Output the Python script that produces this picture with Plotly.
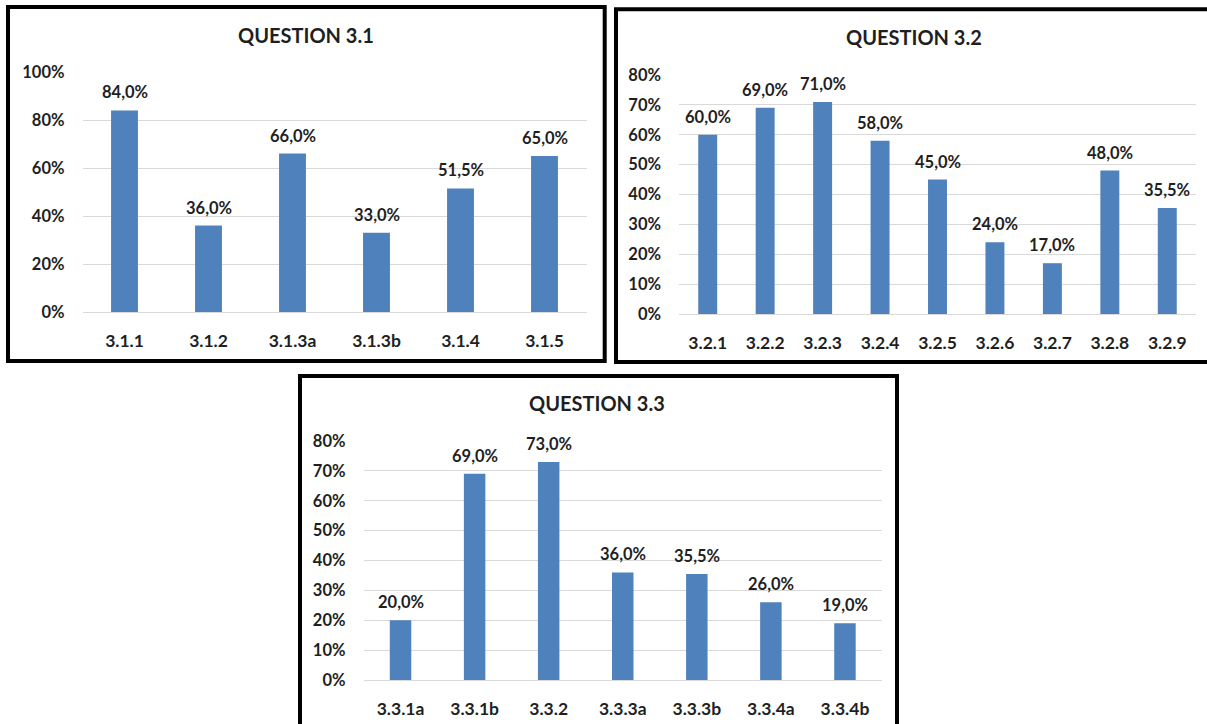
import plotly.graph_objects as go

# Question 3.1
cats_31 = ["3.1.1", "3.1.2", "3.1.3a", "3.1.3b", "3.1.4", "3.1.5"]
vals_31 = [0.84, 0.36, 0.66, 0.33, 0.515, 0.65]

# Question 3.2
cats_32 = ["3.2.1", "3.2.2", "3.2.3", "3.2.4", "3.2.5", "3.2.6", "3.2.7", "3.2.8", "3.2.9"]
vals_32 = [0.60, 0.69, 0.71, 0.58, 0.45, 0.24, 0.17, 0.48, 0.355]

# Question 3.3
cats_33 = ["3.3.1a", "3.3.1b", "3.3.2", "3.3.3a", "3.3.3b", "3.3.4a", "3.3.4b"]
vals_33 = [0.20, 0.69, 0.73, 0.36, 0.355, 0.26, 0.19]

titles = ["QUESTION 3.1", "QUESTION 3.2", "QUESTION 3.3"]

W, H = 1207, 724
FONT = "Lato"
TXT = "#1f1f1f"
BAR = "#4F81BD"
GRID = "#D9D9D9"


def px_x(x):
    return x / W


def px_y(y):
    return 1 - y / H


def pct_label(v):
    # 84,0% style (comma decimal separator)
    return f"{v * 100:.1f}%".replace(".", ",")


fig = go.Figure()

panels = [
    dict(cats=cats_31, vals=vals_31, xd=(82.5, 586.5), yd=(312, 72), ymax=1.0, dtick=0.2,
         bw=0.32, title=titles[0], tpos=(305.5, 35), frame=(8, 7, 604.7, 361)),
    dict(cats=cats_32, vals=vals_32, xd=(679, 1196), yd=(314, 75), ymax=0.8, dtick=0.1,
         bw=0.33, title=titles[1], tpos=(914, 37.5), frame=(616, 9.3, 1212, 362)),
    dict(cats=cats_33, vals=vals_33, xd=(363.5, 882), yd=(680, 441), ymax=0.8, dtick=0.1,
         bw=0.29, title=titles[2], tpos=(597, 403), frame=(300, 376, 897, 732)),
]

layout = dict(
    width=W, height=H,
    autosize=False,
    margin=dict(l=0, r=0, t=0, b=0, pad=0, autoexpand=False),
    paper_bgcolor="white", plot_bgcolor="white",
    showlegend=False,
    font=dict(family=FONT, color=TXT),
    annotations=[], shapes=[],
)

for i, p in enumerate(panels, start=1):
    sfx = "" if i == 1 else str(i)
    fig.add_trace(go.Bar(
        x=p["cats"], y=p["vals"],
        xaxis="x" + sfx, yaxis="y" + sfx,
        marker=dict(color=BAR, line=dict(width=0)),
        width=p["bw"],
        hoverinfo="skip",
    ))
    # value labels above each bar
    for c, v in zip(p["cats"], p["vals"]):
        layout["annotations"].append(dict(
            text=pct_label(v), x=c, y=v,
            xref="x" + sfx, yref="y" + sfx,
            xanchor="center", yanchor="middle", yshift=18,
            showarrow=False,
            font=dict(family=FONT, size=16.5, color=TXT, weight="bold"),
        ))
    layout["xaxis" + sfx] = dict(
        domain=[px_x(p["xd"][0]), px_x(p["xd"][1])],
        anchor="y" + sfx,
        type="category", automargin=False,
        showgrid=False, zeroline=False, showline=False,
        ticks="", ticklabelstandoff=16,
        tickfont=dict(family=FONT, size=17.5, color=TXT, weight="bold"),
        fixedrange=True,
    )
    layout["yaxis" + sfx] = dict(
        domain=[px_y(p["yd"][0]), px_y(p["yd"][1])],
        anchor="x" + sfx,
        range=[0, p["ymax"]], automargin=False,
        dtick=p["dtick"], tick0=0,
        tickformat=".0%",
        showgrid=True, gridcolor=GRID, gridwidth=1,
        zeroline=True, zerolinecolor=GRID, zerolinewidth=1,
        showline=False, ticks="", ticklabelstandoff=17,
        tickfont=dict(family=FONT, size=16.5, color=TXT, weight="bold"),
        fixedrange=True,
    )
    tx, ty = p["tpos"]
    layout["annotations"].append(dict(
        text=p["title"], xref="paper", yref="paper",
        x=px_x(tx), y=px_y(ty), xanchor="center", yanchor="middle",
        showarrow=False,
        font=dict(family=FONT, size=20, color=TXT, weight="bold"),
    ))
    x0, y0, x1, y1 = p["frame"]
    layout["shapes"].append(dict(
        type="rect", xref="paper", yref="paper",
        x0=px_x(x0), x1=px_x(x1), y0=px_y(y1), y1=px_y(y0),
        line=dict(color="black", width=4), fillcolor="rgba(0,0,0,0)",
        layer="above",
    ))

fig.update_layout(**layout)
fig.update_layout(separators=", ")
fig.write_html("out.html")
